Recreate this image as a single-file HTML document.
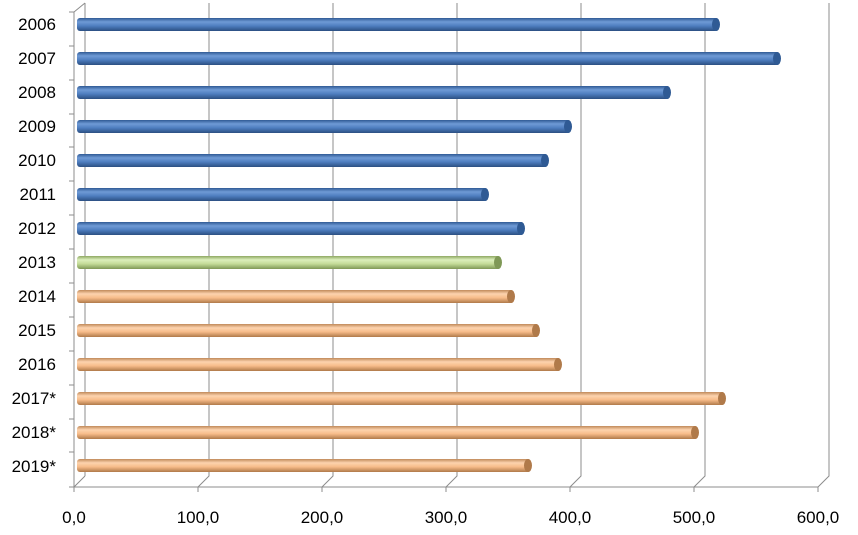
<!DOCTYPE html>
<html><head><style>body{margin:0;background:#fff}svg{display:block}</style></head><body>
<svg width="858" height="535" xmlns="http://www.w3.org/2000/svg" font-family="Liberation Sans, sans-serif">
<defs>
<linearGradient id="b" x1="0" y1="0" x2="0" y2="1"><stop offset="0" stop-color="#2f5a94"/><stop offset="0.3" stop-color="#6f9ad6"/><stop offset="0.6" stop-color="#4f7fc0"/><stop offset="1" stop-color="#2b4f82"/></linearGradient>
<linearGradient id="g" x1="0" y1="0" x2="0" y2="1"><stop offset="0" stop-color="#8ea862"/><stop offset="0.3" stop-color="#dcefbc"/><stop offset="0.6" stop-color="#c4dc98"/><stop offset="1" stop-color="#7f9856"/></linearGradient>
<linearGradient id="o" x1="0" y1="0" x2="0" y2="1"><stop offset="0" stop-color="#c08a5a"/><stop offset="0.3" stop-color="#fdd3ae"/><stop offset="0.6" stop-color="#f7bc8a"/><stop offset="1" stop-color="#b07a4a"/></linearGradient>
</defs>
<g stroke="#8c8c8c" stroke-width="1" fill="none">
<line x1="85" y1="3" x2="85" y2="476"/>
<line x1="74" y1="12" x2="85" y2="3"/>
<line x1="74" y1="12" x2="74" y2="487"/>
<line x1="74" y1="487" x2="818" y2="487"/>
<path d="M74 487 L85 476 M198 487 L209 476 L209 3 M322 487 L333 476 L333 3 M446 487 L457 476 L457 3 M570 487 L581 476 L581 3 M694 487 L705 476 L705 3 M818 487 L829 476 L829 3"/>
<path d="M74 487v5M198 487v5M322 487v5M446 487v5M570 487v5M694 487v5M818 487v5"/>
<path d="M69 12h5M69 46h5M69 80h5M69 114h5M69 147h5M69 181h5M69 215h5M69 249h5M69 283h5M69 317h5M69 351h5M69 385h5M69 419h5M69 452h5M69 487h5"/>
</g>
<g font-size="17" fill="#000" text-anchor="end">
<text x="56" y="30">2006</text><text x="56" y="64">2007</text><text x="56" y="98">2008</text><text x="56" y="132">2009</text><text x="56" y="166">2010</text><text x="56" y="200">2011</text><text x="56" y="234">2012</text><text x="56" y="268">2013</text><text x="56" y="302">2014</text><text x="56" y="336">2015</text><text x="56" y="370">2016</text><text x="56" y="404">2017*</text><text x="56" y="438">2018*</text><text x="56" y="472">2019*</text>
</g>
<g font-size="17" fill="#000" text-anchor="middle">
<text x="74" y="523">0,0</text><text x="198" y="523">100,0</text><text x="322" y="523">200,0</text><text x="446" y="523">300,0</text><text x="570" y="523">400,0</text><text x="694" y="523">500,0</text><text x="818" y="523">600,0</text>
</g>
<g>
<rect x="77" y="18" width="642" height="13" rx="3" fill="url(#b)"/><ellipse cx="716" cy="24.5" rx="4" ry="6.5" fill="#2f5a94"/>
<rect x="77" y="52" width="703" height="13" rx="3" fill="url(#b)"/><ellipse cx="777" cy="58.5" rx="4" ry="6.5" fill="#2f5a94"/>
<rect x="77" y="86" width="593" height="13" rx="3" fill="url(#b)"/><ellipse cx="667" cy="92.5" rx="4" ry="6.5" fill="#2f5a94"/>
<rect x="77" y="120" width="494" height="13" rx="3" fill="url(#b)"/><ellipse cx="568" cy="126.5" rx="4" ry="6.5" fill="#2f5a94"/>
<rect x="77" y="154" width="471" height="13" rx="3" fill="url(#b)"/><ellipse cx="545" cy="160.5" rx="4" ry="6.5" fill="#2f5a94"/>
<rect x="77" y="188" width="411" height="13" rx="3" fill="url(#b)"/><ellipse cx="485" cy="194.5" rx="4" ry="6.5" fill="#2f5a94"/>
<rect x="77" y="222" width="447" height="13" rx="3" fill="url(#b)"/><ellipse cx="521" cy="228.5" rx="4" ry="6.5" fill="#2f5a94"/>
<rect x="77" y="256" width="424" height="13" rx="3" fill="url(#g)"/><ellipse cx="498" cy="262.5" rx="4" ry="6.5" fill="#7f9856"/>
<rect x="77" y="290" width="437" height="13" rx="3" fill="url(#o)"/><ellipse cx="511" cy="296.5" rx="4" ry="6.5" fill="#b07a4a"/>
<rect x="77" y="324" width="462" height="13" rx="3" fill="url(#o)"/><ellipse cx="536" cy="330.5" rx="4" ry="6.5" fill="#b07a4a"/>
<rect x="77" y="358" width="484" height="13" rx="3" fill="url(#o)"/><ellipse cx="558" cy="364.5" rx="4" ry="6.5" fill="#b07a4a"/>
<rect x="77" y="392" width="648" height="13" rx="3" fill="url(#o)"/><ellipse cx="722" cy="398.5" rx="4" ry="6.5" fill="#b07a4a"/>
<rect x="77" y="426" width="621" height="13" rx="3" fill="url(#o)"/><ellipse cx="695" cy="432.5" rx="4" ry="6.5" fill="#b07a4a"/>
<rect x="77" y="459" width="454" height="13" rx="3" fill="url(#o)"/><ellipse cx="528" cy="465.5" rx="4" ry="6.5" fill="#b07a4a"/>
</g>
</svg>
</body></html>
